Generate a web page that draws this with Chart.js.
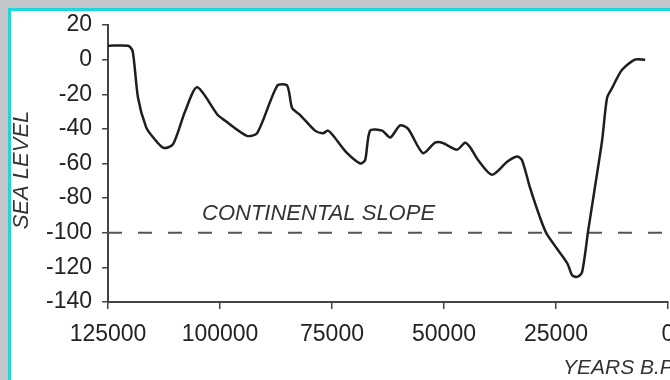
<!DOCTYPE html>
<html>
<head>
<meta charset="utf-8">
<script src="https://cdn.jsdelivr.net/npm/chart.js@4/dist/chart.umd.min.js"></script>
<style>
  html, body { margin: 0; padding: 0; width: 670px; height: 380px; overflow: hidden; background: #c3c7c9; }
  #panel { position: absolute; left: 8px; top: 8px; width: 720px; height: 420px; background: #ffffff;
           border-left: 3px solid #1fd6dd; border-top: 3px solid #1fd6dd; }
  #chart { position: absolute; left: 0; top: 0; }
</style>
</head>
<body>
<div id="panel"></div>
<canvas id="chart" width="670" height="380"></canvas>
<script>
// Sea level curve over the last glacial cycle
const yearsBP = [125000, 120500, 119500, 118300, 116500, 114900, 112600, 110500, 107800, 105100,
  100500, 99000, 94000, 91700, 87200, 85000, 83900, 82100, 78800, 77000,
  75900, 74700, 72000, 68700, 67600, 66500, 63800, 62000, 59800, 58000,
  54700, 52000, 50400, 47100, 45300, 44200, 42400, 39300, 35900, 33700,
  32600, 30800, 28600, 27000, 22500, 21400, 20300, 19200, 17800, 16300,
  14700, 13600, 12500, 10300, 7400, 5100];
const seaLevel = [8, 8, 5, -22, -39, -45, -51, -49, -30, -16,
  -32, -35, -44, -42.5, -15, -15, -28, -32, -41, -42.5,
  -41, -44, -53, -60, -58, -41, -41, -45, -38, -40,
  -54, -48, -48, -52, -48, -50.5, -58, -66.5, -59, -56,
  -58, -74, -91, -101, -117.5, -124.5, -125.5, -123, -98.5, -73.6,
  -46.5, -22, -16.5, -6, 0, 0];

// Depth of the continental slope edge
const slopeLevel = -100;
const slopeRange = [125000, 0];

const xTickValues = [125000, 100000, 75000, 50000, 25000, 0];
const xTickLabels = ['125000', '100000', '75000', '50000', '25000', '0'];
const yTickLabels = ['20', '0', '-20', '-40', '-60', '-80', '-100', '-120', '-140'];

const curvePoints = yearsBP.map((x, i) => ({ x: x, y: seaLevel[i] }));
const slopePoints = slopeRange.map(x => ({ x: x, y: slopeLevel }));

Chart.defaults.font.family = '"Liberation Sans", Arial, sans-serif';

const labelsPlugin = {
  id: 'textLabels',
  afterDraw(chart) {
    const ctx = chart.ctx;
    ctx.save();
    ctx.fillStyle = '#333333';
    ctx.textBaseline = 'middle';
    // annotation above the dashed line
    ctx.font = 'italic 22px "Liberation Sans", Arial, sans-serif';
    ctx.textAlign = 'left';
    ctx.fillText('CONTINENTAL SLOPE', 202, 214);
    // x axis title
    ctx.font = 'italic 21px "Liberation Sans", Arial, sans-serif';
    ctx.fillText('YEARS B.P.', 563, 368);
    // y axis title
    ctx.translate(22, 170);
    ctx.rotate(-Math.PI / 2);
    ctx.textAlign = 'center';
    ctx.font = 'italic 22px "Liberation Sans", Arial, sans-serif';
    ctx.fillText('SEA LEVEL', 0, 0);
    ctx.restore();
  }
};

new Chart(document.getElementById('chart'), {
  type: 'line',
  data: {
    datasets: [
      {
        data: curvePoints,
        borderColor: '#1e1e1e',
        borderWidth: 2.5,
        pointRadius: 0,
        tension: 0.25,
        fill: false
      },
      {
        data: slopePoints,
        borderColor: '#555555',
        borderWidth: 2,
        borderDash: [14, 16],
        pointRadius: 0,
        fill: false
      }
    ]
  },
  options: {
    responsive: false,
    devicePixelRatio: 1,
    animation: false,
    layout: { padding: { left: 0, top: 25, right: 2, bottom: 0 } },
    plugins: { legend: { display: false }, tooltip: { enabled: false } },
    scales: {
      x: {
        type: 'linear',
        reverse: true,
        min: 0,
        max: 125000,
        afterBuildTicks(scale) { scale.ticks = xTickValues.map(v => ({ value: v })); },
        afterFit(scale) { scale.height = 78; scale.paddingLeft = 0; scale.paddingRight = 0; },
        ticks: {
          color: '#222222',
          font: { size: 23 },
          padding: 12,
          maxRotation: 0,
          autoSkip: false,
          callback: (v) => xTickLabels[xTickValues.indexOf(v)]
        },
        grid: { drawOnChartArea: false, tickLength: 7, color: '#444444', lineWidth: 1.5 },
        border: { color: '#444444', width: 2 }
      },
      y: {
        min: -140,
        max: 20,
        afterFit(scale) { scale.width = 108; },
        ticks: {
          stepSize: 20,
          color: '#222222',
          font: { size: 23 },
          padding: 10,
          callback: (v) => yTickLabels[(20 - v) / 20]
        },
        grid: { drawOnChartArea: false, tickLength: 6, color: '#444444', lineWidth: 1.5 },
        border: { color: '#444444', width: 2 }
      }
    }
  },
  plugins: [labelsPlugin]
});
</script>
</body>
</html>
